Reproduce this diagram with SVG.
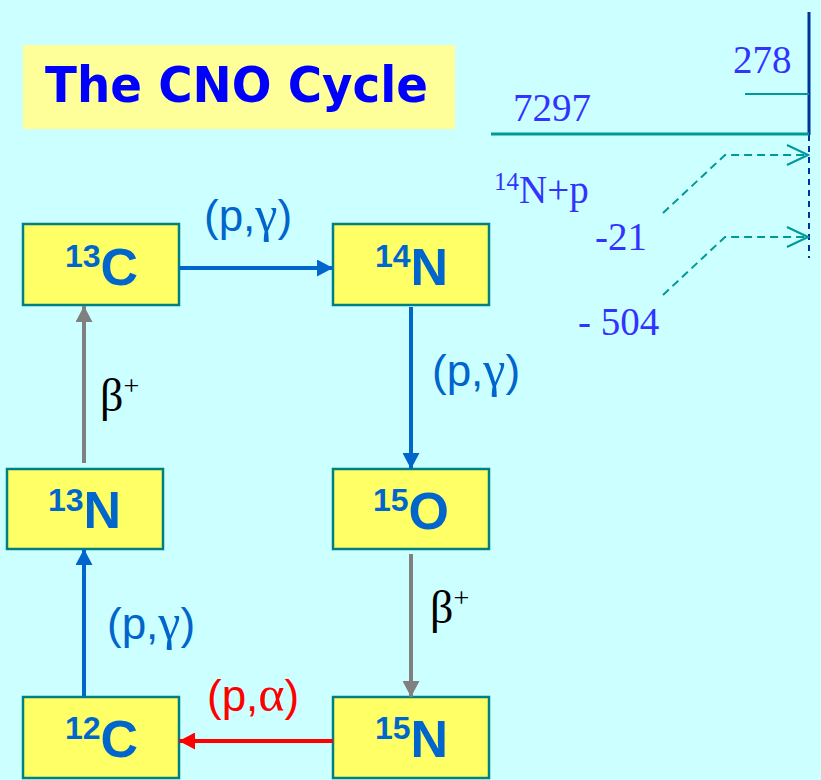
<svg xmlns="http://www.w3.org/2000/svg" width="821" height="780" viewBox="0 0 821 780">
<defs>
<style>
.node rect{fill:#FFFF66;stroke:#008080;stroke-width:2.5}
.iso{font-family:"Liberation Sans",Arial,sans-serif;font-weight:bold;fill:#0066CC}
.lbl{font-family:"Liberation Sans",Arial,sans-serif;font-size:44px}
.gk{font-family:"Liberation Serif","Times New Roman",serif;font-size:50px}
.beta{font-family:"Liberation Serif","Times New Roman",serif;fill:#000}
.num{font-family:"Liberation Serif","Times New Roman",serif;fill:#3333FF;font-size:39px}
.conn line{stroke-width:4;fill:none}
.dash{stroke:#009999;stroke-width:2;fill:none;stroke-dasharray:8 5}
</style>
<marker id="ab" viewBox="0 0 16 17" refX="16" refY="8.5" markerWidth="16" markerHeight="17" markerUnits="userSpaceOnUse" orient="auto"><path d="M0,0 L16,8.5 L0,17 z" fill="#0066CC"/></marker>
<marker id="ag" viewBox="0 0 16 17" refX="16" refY="8.5" markerWidth="16" markerHeight="17" markerUnits="userSpaceOnUse" orient="auto"><path d="M0,0 L16,8.5 L0,17 z" fill="#808080"/></marker>
<marker id="ar" viewBox="0 0 16 17" refX="16" refY="8.5" markerWidth="16" markerHeight="17" markerUnits="userSpaceOnUse" orient="auto"><path d="M0,0 L16,8.5 L0,17 z" fill="#FF0000"/></marker>
<marker id="ao" viewBox="0 0 24 24" refX="22" refY="11" markerWidth="24" markerHeight="24" markerUnits="userSpaceOnUse" orient="auto"><path d="M1,1 L22,11 L1,21" fill="none" stroke="#009999" stroke-width="2"/></marker>
</defs>
<rect x="0" y="0" width="821" height="780" fill="#CCFFFF"/>

<g id="title">
<rect x="23" y="45" width="432" height="84" fill="#FFFF99"/>
<text x="45" y="102" font-family="'Comic Sans MS','DejaVu Sans',sans-serif" font-weight="bold" font-size="50" fill="#0000FF" textLength="383" lengthAdjust="spacingAndGlyphs">The CNO Cycle</text>
</g>

<g id="n13C" class="node"><rect x="23" y="224" width="156" height="81"/><text class="iso" x="65" y="285"><tspan font-size="32" dy="-18">13</tspan><tspan font-size="52" dy="18">C</tspan></text></g>
<g id="n14N" class="node"><rect x="333" y="224" width="156" height="81"/><text class="iso" x="375" y="285"><tspan font-size="32" dy="-18">14</tspan><tspan font-size="52" dy="18">N</tspan></text></g>
<g id="n13N" class="node"><rect x="7" y="469" width="156" height="80"/><text class="iso" x="48" y="528"><tspan font-size="32" dy="-17">13</tspan><tspan font-size="52" dy="17">N</tspan></text></g>
<g id="n15O" class="node"><rect x="333" y="469" width="156" height="80"/><text class="iso" x="373" y="529"><tspan font-size="32" dy="-18">15</tspan><tspan font-size="52" dy="18">O</tspan></text></g>
<g id="n12C" class="node"><rect x="23" y="697" width="156" height="81"/><text class="iso" x="65" y="757"><tspan font-size="32" dy="-18">12</tspan><tspan font-size="52" dy="18">C</tspan></text></g>
<g id="n15N" class="node"><rect x="333" y="697" width="156" height="81"/><text class="iso" x="375" y="757"><tspan font-size="32" dy="-18">15</tspan><tspan font-size="52" dy="18">N</tspan></text></g>

<g id="connectors" class="conn">
<line x1="179" y1="268" x2="333" y2="268" stroke="#0066CC" marker-end="url(#ab)"/>
<line x1="411" y1="307" x2="411" y2="469" stroke="#0066CC" marker-end="url(#ab)"/>
<line x1="411" y1="554" x2="411" y2="697" stroke="#808080" marker-end="url(#ag)"/>
<line x1="333" y1="741" x2="179" y2="741" stroke="#FF0000" marker-end="url(#ar)"/>
<line x1="84" y1="697" x2="84" y2="549" stroke="#0066CC" marker-end="url(#ab)"/>
<line x1="84" y1="463" x2="84" y2="306" stroke="#808080" marker-end="url(#ag)"/>
</g>

<g id="labels">
<text class="lbl" x="204" y="231" fill="#0066CC">(p,<tspan class="gk">γ</tspan>)</text>
<text class="lbl" x="432" y="386" fill="#0066CC">(p,<tspan class="gk">γ</tspan>)</text>
<text class="lbl" x="107" y="639" fill="#0066CC">(p,<tspan class="gk">γ</tspan>)</text>
<text class="lbl" x="207" y="711" fill="#FF0000">(p,<tspan class="gk">α</tspan>)</text>
<text class="beta" x="430" y="623" font-size="46">β<tspan font-size="28" dy="-16">+</tspan></text>
<text class="beta" x="100" y="411" font-size="46">β<tspan font-size="28" dy="-16">+</tspan></text>
</g>

<g id="levels">
<line x1="809" y1="12" x2="809" y2="135" stroke="#003399" stroke-width="3"/>
<line x1="809" y1="135" x2="809" y2="258" stroke="#003399" stroke-width="2" stroke-dasharray="6 5"/>
<line x1="491" y1="134" x2="809" y2="134" stroke="#009999" stroke-width="3"/>
<line x1="745" y1="94" x2="809" y2="94" stroke="#009999" stroke-width="2"/>
<text class="num" x="733" y="73">278</text>
<text class="num" x="513" y="121">7297</text>
<text class="num" x="494" y="203"><tspan font-size="25" dy="-13">14</tspan><tspan dy="13">N+p</tspan></text>
<text class="num" x="595" y="250">-21</text>
<text class="num" x="578" y="335">- 504</text>
<polyline class="dash" points="663,213 725,155 808,155" marker-end="url(#ao)"/>
<polyline class="dash" points="663,295 725,237 808,237" marker-end="url(#ao)"/>
</g>
</svg>
